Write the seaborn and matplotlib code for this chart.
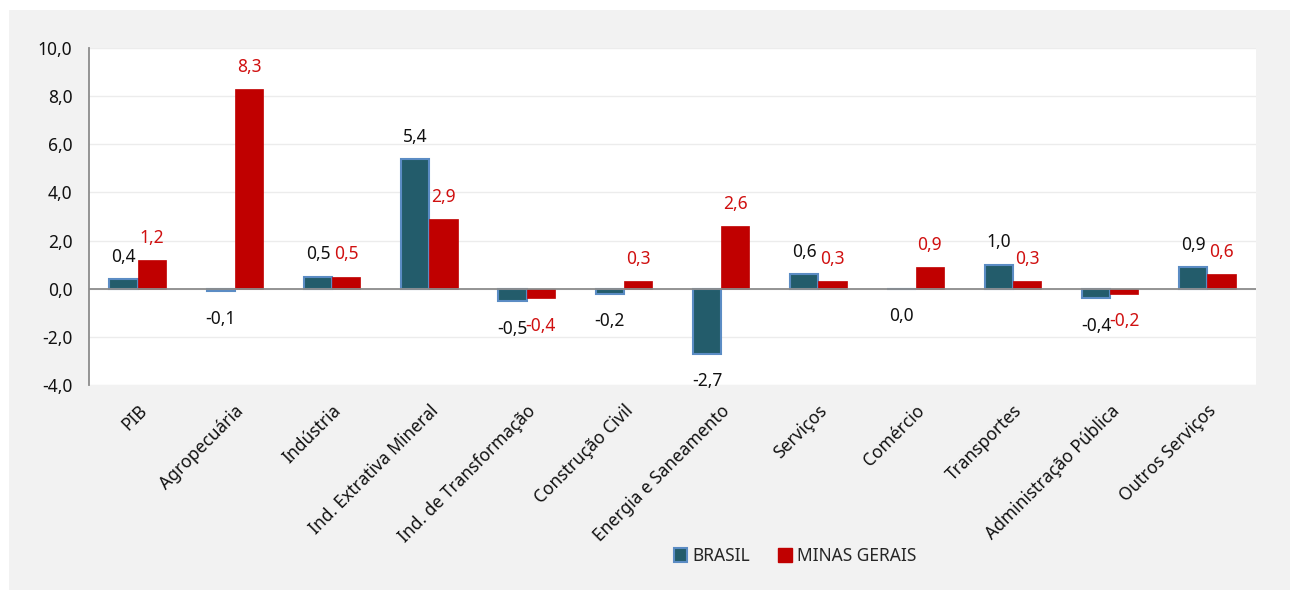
import numpy as np
import pandas as pd
import matplotlib
matplotlib.use("Agg")
import matplotlib.pyplot as plt
import seaborn as sns
from matplotlib.patches import Rectangle, Patch

# --- data ---
setores = ['PIB', 'Agropecuária', 'Indústria', 'Ind. Extrativa Mineral',
           'Ind. de Transformação', 'Construção Civil', 'Energia e Saneamento',
           'Serviços', 'Comércio', 'Transportes', 'Administração Pública',
           'Outros Serviços']
brasil = [0.4, -0.1, 0.5, 5.4, -0.5, -0.2, -2.7, 0.6, 0.0, 1.0, -0.4, 0.9]
minas = [1.2, 8.3, 0.5, 2.9, -0.4, 0.3, 2.6, 0.3, 0.9, 0.3, -0.2, 0.6]
series = ['BRASIL', 'MINAS GERAIS']
yticks = [-4, -2, 0, 2, 4, 6, 8, 10]

df = pd.DataFrame({
    'setor': setores * 2,
    'serie': [series[0]] * len(setores) + [series[1]] * len(setores),
    'valor': brasil + minas,
})

sns.set_theme(style='white')
plt.rcParams['font.family'] = ['Noto Sans', 'DejaVu Sans']

cor_br = '#235c6b'
cor_br_borda = '#5b8cc4'
cor_mg = '#c00000'
txt_mg = '#d01010'
fs = 12.5

fig = plt.figure(figsize=(12.9, 5.96), dpi=100, facecolor='white')
# gray chart area behind the plot
fig.patches.append(Rectangle((9 / 1290, 6 / 596), 1, 580 / 596,
                             transform=fig.transFigure, facecolor='#f2f2f2',
                             edgecolor='none', zorder=-10))
ax = fig.add_axes([89 / 1290, 1 - 385 / 596, (1256 - 89) / 1290, (385 - 48) / 596])
ax.set_facecolor('white')

sns.barplot(data=df, x='setor', y='valor', hue='serie', order=setores,
            hue_order=series, palette=[cor_br, cor_mg], width=0.58,
            saturation=1, ax=ax, legend=False)

# edges: blue outline on Brasil bars
for p in ax.containers[0]:
    p.set_edgecolor(cor_br_borda)
    p.set_linewidth(1.5)
for p in ax.containers[1]:
    p.set_edgecolor(cor_mg)
    p.set_linewidth(0.5)

# value labels (zero goes below, like the negatives)
for cont, vals, cor in zip(ax.containers, [brasil, minas], ['#111111', txt_mg]):
    for p, v in zip(cont, vals):
        x = p.get_x() + p.get_width() / 2
        txt = f'{v:.1f}'.replace('.', ',')
        dy = 16 if v > 0 else -20
        ax.annotate(txt, (x, v), xytext=(0, dy), textcoords='offset points',
                    ha='center', va='center', color=cor, fontsize=fs)

ax.axhline(0, color='#8c8c8c', lw=1.3, zorder=1)
ax.set_ylim(-4, 10)
ax.set_yticks(yticks)
ax.set_yticklabels([f'{t:.1f}'.replace('.', ',') for t in yticks], fontsize=fs,
                   color='#111111')
ax.yaxis.grid(True, color='#ececec', lw=1)
ax.set_axisbelow(True)
ax.set_xlim(-0.5, len(setores) - 0.5)
ax.set_xlabel('')
ax.set_ylabel('')
ax.tick_params(axis='y', length=0, pad=12)
ax.tick_params(axis='x', length=0, pad=12)
ax.set_xticks(range(len(setores)))
ax.set_xticklabels(setores, rotation=45, ha='right', rotation_mode='anchor',
                   fontsize=fs, color='#111111')
for s in ['top', 'right', 'bottom']:
    ax.spines[s].set_visible(False)
ax.spines['left'].set_color('#8c8c8c')
ax.spines['left'].set_linewidth(1.3)

handles = [Patch(facecolor=cor_br, edgecolor=cor_br_borda, lw=1.5, label=series[0]),
           Patch(facecolor=cor_mg, edgecolor=cor_mg, label=series[1])]
fig.legend(handles=handles, loc='center', bbox_to_anchor=(795 / 1290, 1 - 556 / 596),
           ncol=2, frameon=False, fontsize=fs, handlelength=0.8, handleheight=0.8,
           handletextpad=0.3, columnspacing=1.6)

fig.savefig('out.png', dpi=100, facecolor=fig.get_facecolor())
